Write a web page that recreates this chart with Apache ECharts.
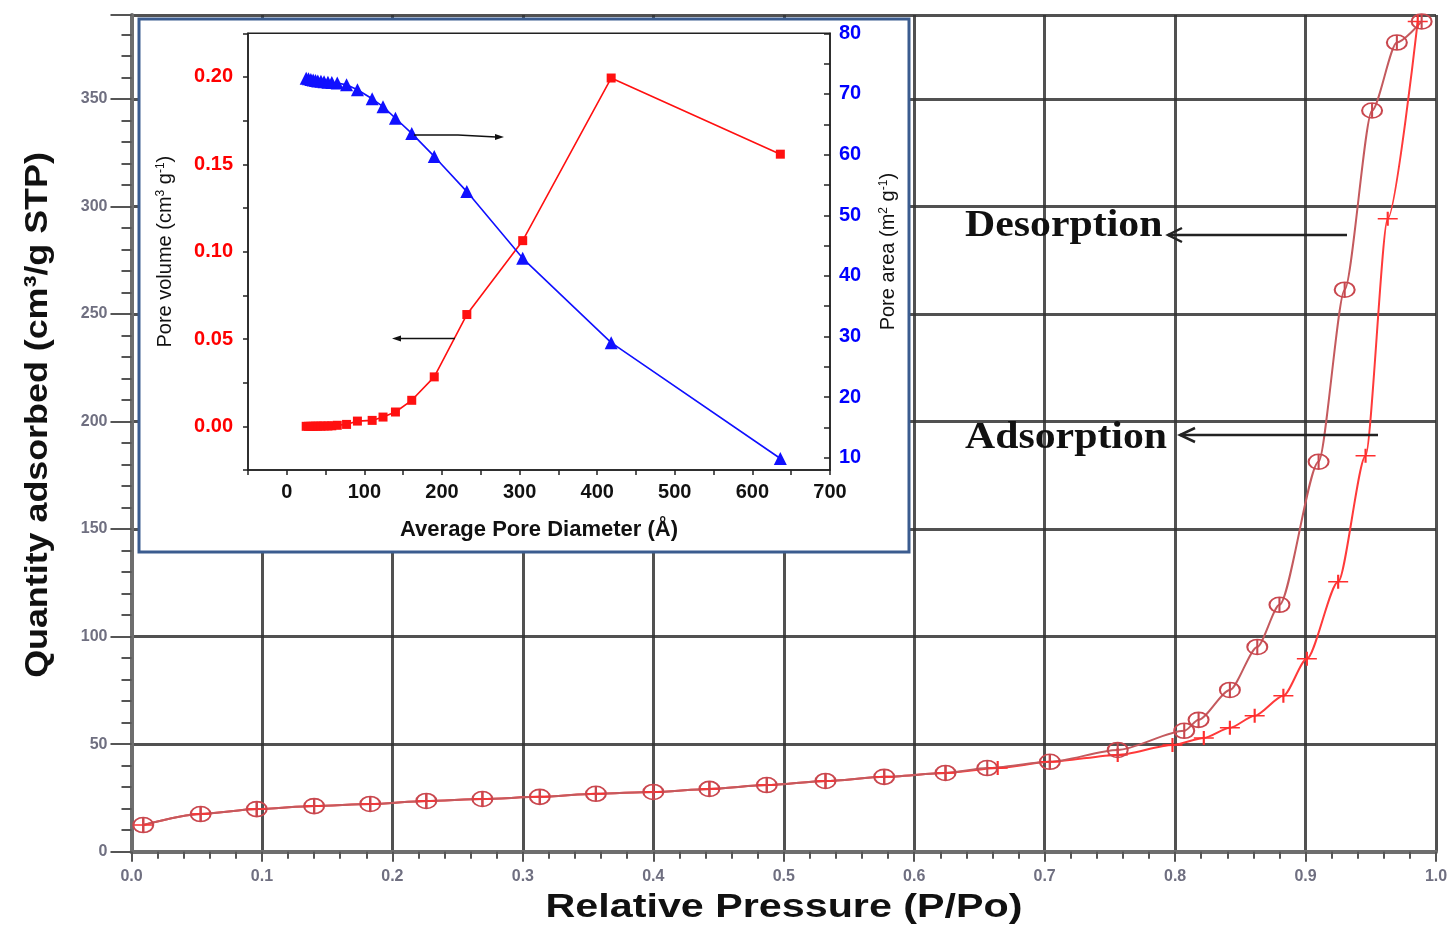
<!DOCTYPE html>
<html>
<head>
<meta charset="utf-8">
<script src="https://cdn.jsdelivr.net/npm/echarts@6/dist/echarts.min.js"></script>
<style>
  html, body { margin: 0; padding: 0; background: #fff; }
  #chart { width: 1453px; height: 928px; }
</style>
</head>
<body>
<div id="chart"></div>
<script>
// main isotherm (relative pressure vs quantity adsorbed)
const adsPressure = [0.009, 0.053, 0.096, 0.140, 0.183, 0.226, 0.269, 0.313, 0.356, 0.400, 0.443, 0.487, 0.532, 0.577, 0.624, 0.664, 0.704, 0.756, 0.798, 0.822, 0.842, 0.861, 0.883, 0.901, 0.925, 0.946, 0.963, 0.986];
const adsQuantity = [12.4, 17.5, 19.8, 21.2, 22.2, 23.6, 24.5, 25.5, 26.9, 27.8, 29.2, 31.0, 32.9, 34.8, 36.6, 38.9, 41.8, 45.0, 49.6, 52.9, 57.6, 63.2, 72.5, 89.7, 125.5, 184.1, 294.3, 386];
const desPressure = [0.009, 0.053, 0.096, 0.140, 0.183, 0.226, 0.269, 0.313, 0.356, 0.400, 0.443, 0.487, 0.532, 0.577, 0.624, 0.656, 0.704, 0.756, 0.807, 0.818, 0.842, 0.863, 0.880, 0.910, 0.930, 0.951, 0.970, 0.989];
const desQuantity = [12.4, 17.5, 19.8, 21.2, 22.2, 23.6, 24.5, 25.5, 26.9, 27.8, 29.2, 31.0, 32.9, 34.8, 36.6, 38.9, 41.8, 47.3, 56.2, 61.3, 75.2, 95.2, 114.8, 181.3, 261.3, 344.6, 376.2, 386];

// inset (pore size distribution)
const diameter = [25, 28, 31, 34, 37, 40, 44, 48, 53, 58, 65, 77, 91, 110, 124, 140, 161, 190, 232, 304, 418, 636];
const poreVolume = [0, 0, 0, 0, 0.0001, 0.0001, 0.0001, 0.0002, 0.0002, 0.0003, 0.0006, 0.0011, 0.0030, 0.0034, 0.0053, 0.0082, 0.0149, 0.0283, 0.0640, 0.1063, 0.1994, 0.1558];
const poreArea = [72.6, 72.5, 72.4, 72.3, 72.2, 72.15, 72.1, 72.0, 71.95, 71.9, 71.8, 71.5, 70.7, 69.2, 67.9, 66.0, 63.5, 59.7, 53.9, 42.9, 29.0, 9.9];

// tick labels of the inset axes
const diamLabels = [0, 100, 200, 300, 400, 500, 600, 700];
const diamTicks = [-50, 0, 50, 100, 150, 200, 250, 300, 350, 400, 450, 500, 550, 600, 650, 700];
const volLabels = [0, 0.05, 0.1, 0.15, 0.2];
const volTicks = [-0.025, 0, 0.025, 0.05, 0.075, 0.1, 0.125, 0.15, 0.175, 0.2, 0.225];
const areaLabels = [10, 20, 30, 40, 50, 60, 70, 80];
const areaTicks = [10, 15, 20, 25, 30, 35, 40, 45, 50, 55, 60, 65, 70, 75, 80];

const zip = (a, b) => a.map((v, i) => [v, b[i]]);

const SANS = '"Liberation Sans", Arial, sans-serif';
const SERIF = '"Liberation Serif", "Times New Roman", serif';
const plusSymbol = 'path://M0,7L20,7M10,0L10,14';
const ovalSymbol = 'path://M0,7.5A10,7.5 0 1 1 20,7.5A10,7.5 0 1 1 0,7.5ZM10,0L10,15';

const chart = echarts.init(document.getElementById('chart'));

const tickLabel = { color: '#6f6f80', fontSize: 16, fontWeight: 'bold', fontFamily: SANS };
const insetAxisLine = { onZero: false, lineStyle: { color: '#222', width: 1.5 } };
const insetTitle = {
  t: { color: '#111', fontSize: 20, fontFamily: SANS },
  s: { color: '#111', fontSize: 12, fontFamily: SANS, verticalAlign: 'top', padding: [0, 0, 9, 0] }
};

chart.setOption({
  animation: false,
  backgroundColor: '#fff',
  grid: [
    { left: 131.5, right: 17, top: 15, bottom: 76.3 },
    { left: 248, right: 623, top: 33.3, bottom: 458, show: true, borderColor: '#222', borderWidth: 1.5, backgroundColor: 'transparent', z: 6 }
  ],
  xAxis: [
    {
      gridIndex: 0, type: 'value', min: 0, max: 1, interval: 0.1,
      axisLine: { lineStyle: { color: '#6e6e6e', width: 4 } },
      axisTick: { length: 10, lineStyle: { color: '#555', width: 2 } },
      minorTick: { show: true, splitNumber: 5, length: 7, lineStyle: { color: '#555', width: 2 } },
      splitLine: { show: true, lineStyle: { color: '#333', width: 3, opacity: 0.85 } },
      axisLabel: Object.assign({ margin: 17, formatter: v => v.toFixed(1) }, tickLabel)
    },
    {
      gridIndex: 1, type: 'value', min: -50, max: 700, z: 6,
      name: 'Average Pore Diameter (Å)', nameLocation: 'middle', nameGap: 49,
      nameTextStyle: { color: '#111', fontSize: 22, fontWeight: 'bold', fontFamily: SANS },
      axisLine: insetAxisLine,
      axisTick: { customValues: diamTicks, length: 5, lineStyle: { color: '#222', width: 1.5 } },
      splitLine: { show: false },
      axisLabel: { customValues: diamLabels, margin: 12, color: '#111', fontSize: 20, fontWeight: 'bold', fontFamily: SANS }
    }
  ],
  yAxis: [
    {
      gridIndex: 0, type: 'value', position: 'left', min: 0, max: 389, interval: 50,
      axisLine: { show: true, lineStyle: { color: '#6e6e6e', width: 4 } },
      axisTick: { length: 21, lineStyle: { color: '#555', width: 2 } },
      splitLine: { show: true, lineStyle: { color: '#333', width: 3, opacity: 0.85 } },
      axisLabel: Object.assign({ margin: 24, formatter: v => (v % 50 === 0 ? String(v) : '') }, tickLabel)
    },
    {
      // minor ticks every 10 on the main quantity axis
      gridIndex: 0, type: 'value', position: 'left', min: 0, max: 389, interval: 10,
      axisLine: { show: false, onZero: false },
      axisTick: { length: 10, lineStyle: { color: '#555', width: 2 } },
      splitLine: { show: false },
      axisLabel: { show: false }
    },
    {
      gridIndex: 1, type: 'value', position: 'left', min: -0.025, max: 0.225, z: 6,
      name: '{t|Pore volume (cm}{s|3}{t| g}{s|-1}{t|)}', nameLocation: 'middle', nameGap: 72, nameRotate: 90,
      nameTextStyle: { rich: insetTitle },
      axisLine: insetAxisLine,
      axisTick: { customValues: volTicks, length: 5, lineStyle: { color: '#222', width: 1.5 } },
      splitLine: { show: false },
      axisLabel: { customValues: volLabels, margin: 15, formatter: v => v.toFixed(2), color: '#ff0000', fontSize: 20, fontWeight: 'bold', fontFamily: SANS }
    },
    {
      gridIndex: 1, type: 'value', position: 'right', min: 8, max: 80, z: 6,
      name: '{t|Pore area (m}{s|2}{t| g}{s|-1}{t|)}', nameLocation: 'middle', nameGap: 48, nameRotate: 90,
      nameTextStyle: { rich: insetTitle },
      axisLine: insetAxisLine,
      axisTick: { customValues: areaTicks, inside: true, length: 6, lineStyle: { color: '#222', width: 1.5 } },
      splitLine: { show: false },
      axisLabel: { customValues: areaLabels, margin: 9, color: '#0000ff', fontSize: 20, fontWeight: 'bold', fontFamily: SANS }
    }
  ],
  series: [
    {
      name: 'Adsorption', type: 'line', xAxisIndex: 0, yAxisIndex: 0,
      data: zip(adsPressure, adsQuantity),
      smooth: 0.25, smoothMonotone: 'x',
      symbol: plusSymbol, symbolSize: [20, 14],
      lineStyle: { color: '#ff3a3a', width: 2 },
      itemStyle: { color: 'rgba(0,0,0,0)', borderColor: '#ff2e2e', borderWidth: 1.8 },
      z: 3
    },
    {
      name: 'Desorption', type: 'line', xAxisIndex: 0, yAxisIndex: 0,
      data: zip(desPressure, desQuantity),
      smooth: 0.25, smoothMonotone: 'x',
      symbol: ovalSymbol, symbolSize: [20, 15],
      lineStyle: { color: '#c45a5e', width: 2 },
      itemStyle: { color: 'rgba(0,0,0,0)', borderColor: '#c9474e', borderWidth: 1.8 },
      z: 3
    },
    {
      name: 'Pore volume', type: 'line', xAxisIndex: 1, yAxisIndex: 2,
      data: zip(diameter, poreVolume),
      symbol: 'rect', symbolSize: 9,
      lineStyle: { color: '#ff1010', width: 1.6 },
      itemStyle: { color: '#ff1010' },
      z: 8
    },
    {
      name: 'Pore area', type: 'line', xAxisIndex: 1, yAxisIndex: 3,
      data: zip(diameter, poreArea),
      symbol: 'triangle', symbolSize: 13,
      lineStyle: { color: '#1010ff', width: 1.6 },
      itemStyle: { color: '#1010ff' },
      z: 8
    }
  ],
  graphic: [
    // white inset panel
    { type: 'rect', z: 1, shape: { x: 139, y: 19, width: 770, height: 533 },
      style: { fill: '#fff', stroke: '#3b5c8f', lineWidth: 3 } },
    // main axis titles
    { type: 'text', z: 10, x: 38, y: 415, rotation: Math.PI / 2, scaleX: 1.12,
      style: { text: 'Quantity adsorbed (cm³/g STP)', font: 'bold 32px ' + SANS, fill: '#111', align: 'center', verticalAlign: 'middle' } },
    { type: 'text', z: 10, x: 784, y: 908, scaleX: 1.25,
      style: { text: 'Relative Pressure (P/Po)', font: 'bold 33px ' + SANS, fill: '#111', align: 'center', verticalAlign: 'middle' } },
    // branch annotations
    { type: 'text', z: 10, x: 965, y: 226, scaleX: 1.1,
      style: { text: 'Desorption', font: 'bold 38px ' + SERIF, fill: '#111', align: 'left', verticalAlign: 'middle' } },
    { type: 'text', z: 10, x: 965, y: 438, scaleX: 1.1,
      style: { text: 'Adsorption', font: 'bold 38px ' + SERIF, fill: '#111', align: 'left', verticalAlign: 'middle' } },
    { type: 'polyline', z: 10, shape: { points: [[1347, 235], [1168, 235]] }, style: { stroke: '#222', lineWidth: 2.5, fill: null } },
    { type: 'polyline', z: 10, shape: { points: [[1182, 228], [1168, 235], [1182, 242]] }, style: { stroke: '#222', lineWidth: 2.5, fill: null } },
    { type: 'polyline', z: 10, shape: { points: [[1378, 435], [1180, 435]] }, style: { stroke: '#222', lineWidth: 2.5, fill: null } },
    { type: 'polyline', z: 10, shape: { points: [[1195, 428], [1180, 435], [1195, 442]] }, style: { stroke: '#222', lineWidth: 2.5, fill: null } },
    // inset arrows
    { type: 'polyline', z: 10, shape: { points: [[414, 135], [458, 135], [496, 137]] }, style: { stroke: '#111', lineWidth: 1.3, fill: null } },
    { type: 'polygon', z: 10, shape: { points: [[504, 137], [495, 134], [495, 140]] }, style: { fill: '#111' } },
    { type: 'polyline', z: 10, shape: { points: [[455, 338.5], [400, 338.5]] }, style: { stroke: '#111', lineWidth: 1.3, fill: null } },
    { type: 'polygon', z: 10, shape: { points: [[392, 338.5], [401, 335.5], [401, 341.5]] }, style: { fill: '#111' } }
  ]
});
</script>
</body>
</html>
